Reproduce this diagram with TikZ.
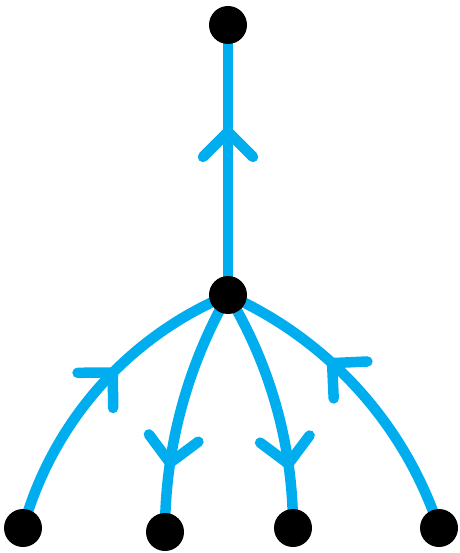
\documentclass[tikz,border=0pt]{standalone}
\usetikzlibrary{decorations.markings,backgrounds}
\definecolor{cyanE}{RGB}{0,174,239}
\begin{document}
\begin{tikzpicture}[x=1pt,y=-1pt,
  edge/.style={draw=cyanE, line width=10.5pt, line cap=round},
  chev/.style={postaction={decorate}, decoration={markings, mark=at position #1 with {\draw[cyanE, line width=10.5pt, line cap=round, line join=round] (-25,-25)--(0,0)--(-25,25);}}},
  dot/.style={circle, fill=black, minimum size=38pt, inner sep=0pt}]
\useasboundingbox (0,0) rectangle (459,553);
\node[dot] (top) at (228,25) {};
\node[dot] (mid) at (228,295) {};
\node[dot] (b1) at (23,528) {};
\node[dot] (b2) at (165,532) {};
\node[dot] (b3) at (293,528) {};
\node[dot] (b4) at (439,528) {};
\begin{scope}[on background layer]
\draw[edge, chev=0.604] (mid.center) -- (top.center);
\draw[edge, chev=0.565] (b1.center) .. controls (52.4,422.5) and (127,337.5) .. (mid.center);
\draw[edge, chev=0.72] (mid.center) .. controls (186.7,367.3) and (165,448.8) .. (b2.center);
\draw[edge, chev=0.737] (mid.center) .. controls (270.6,365.4) and (293,446) .. (b3.center);
\draw[edge, chev=0.614] (b4.center) .. controls (404.6,424.1) and (328.1,339.6) .. (mid.center);
\end{scope}
\end{tikzpicture}
\end{document}
